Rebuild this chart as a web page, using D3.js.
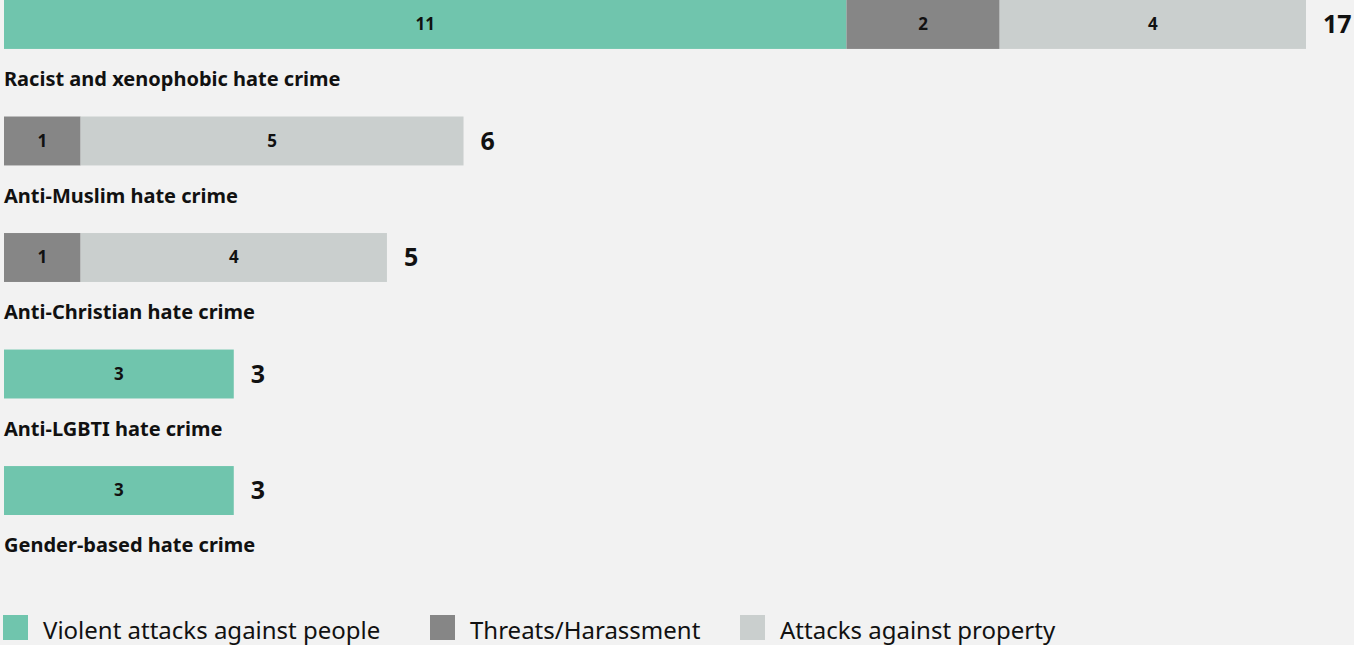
<!DOCTYPE html>
<html>
<head>
<meta charset="utf-8">
<script src="https://cdn.jsdelivr.net/npm/d3@7"></script>
<style>
  body { margin: 0; background: #f2f2f2; }
  svg { display: block; font-family: "Noto Sans", "Open Sans", sans-serif; }
</style>
</head>
<body>
<div id="chart"></div>
<script>
var categories = ["Racist and xenophobic hate crime", "Anti-Muslim hate crime", "Anti-Christian hate crime", "Anti-LGBTI hate crime", "Gender-based hate crime"];
var seriesNames = ["Violent attacks against people", "Threats/Harassment", "Attacks against property"];
var violent = [11, 0, 0, 3, 3];
var threats = [2, 1, 1, 0, 0];
var property = [4, 5, 4, 0, 0];
var colors = ["#70c5ad", "#868686", "#cacfce"];

var width = 1354, height = 645;

var svg = d3.select("#chart")
  .append("svg")
  .attr("width", width)
  .attr("height", height);

svg.append("rect")
  .attr("width", width)
  .attr("height", height)
  .attr("fill", "#f2f2f2");

var rows = categories.map(function(c, i) {
  return { cat: c, v0: violent[i], v1: threats[i], v2: property[i] };
});

var xScale = d3.scaleLinear().domain([0, 17]).range([4, 1306]);
var yScale = d3.scaleBand().domain(categories).range([0, 515]).paddingInner(0.58).paddingOuter(0);

var stack = d3.stack().keys(["v0", "v1", "v2"]);
var series = stack(rows);

var groups = svg.selectAll(".series")
  .data(series)
  .enter()
  .append("g")
  .attr("class", "series")
  .attr("fill", function(d, i) { return colors[i]; });

groups.selectAll("rect")
  .data(function(d) { return d.filter(function(p) { return p[1] - p[0] > 0; }); })
  .enter()
  .append("rect")
  .attr("x", function(d) { return xScale(d[0]); })
  .attr("y", function(d) { return yScale(d.data.cat); })
  .attr("width", function(d) { return xScale(d[1]) - xScale(d[0]); })
  .attr("height", yScale.bandwidth());

groups.selectAll("text")
  .data(function(d) { return d.filter(function(p) { return p[1] - p[0] > 0; }); })
  .enter()
  .append("text")
  .attr("x", function(d) { return (xScale(d[0]) + xScale(d[1])) / 2; })
  .attr("y", function(d) { return yScale(d.data.cat) + yScale.bandwidth() / 2; })
  .attr("dy", "0.35em")
  .attr("text-anchor", "middle")
  .attr("fill", "#111")
  .style("font-size", "17px")
  .style("font-weight", "bold")
  .text(function(d) { return d[1] - d[0]; });

// totals
svg.selectAll(".total")
  .data(rows)
  .enter()
  .append("text")
  .attr("class", "total")
  .attr("x", function(d) { return xScale(d.v0 + d.v1 + d.v2) + 17; })
  .attr("y", function(d) { return yScale(d.cat) + yScale.bandwidth() / 2; })
  .attr("dy", "0.35em")
  .attr("fill", "#111")
  .style("font-size", "25px")
  .style("font-weight", "bold")
  .text(function(d) { return d.v0 + d.v1 + d.v2; });

// category labels
svg.selectAll(".cat-label")
  .data(categories)
  .enter()
  .append("text")
  .attr("class", "cat-label")
  .attr("x", 4)
  .attr("y", function(d) { return yScale(d) + 86; })
  .attr("fill", "#111")
  .style("font-size", "20px")
  .style("font-weight", "bold")
  .text(function(d) { return d; });

// legend
var legendX = [3, 430, 740];
var legend = svg.selectAll(".legend")
  .data(seriesNames)
  .enter()
  .append("g")
  .attr("class", "legend")
  .attr("transform", function(d, i) { return "translate(" + legendX[i] + ",615)"; });

legend.append("rect")
  .attr("width", 25)
  .attr("height", 25)
  .attr("fill", function(d, i) { return colors[i]; });

legend.append("text")
  .attr("x", 40)
  .attr("y", 24)
  .attr("fill", "#111")
  .style("font-size", "24px")
  .text(function(d) { return d; });
</script>
</body>
</html>
